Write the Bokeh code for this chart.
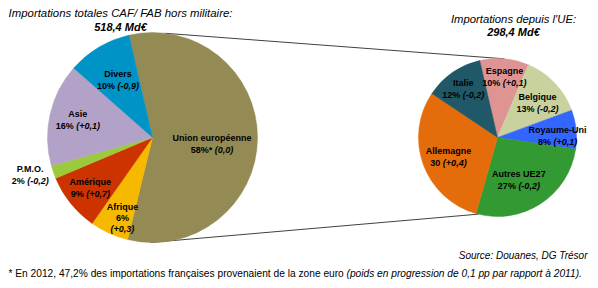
import math
from bokeh.plotting import figure
from bokeh.models import Range1d, ColumnDataSource
from bokeh.embed import file_html
from bokeh.resources import INLINE
from bokeh.core.properties import value

# ---------------- data ----------------
left_names = ["Union européenne", "Afrique", "Amérique", "P.M.O.", "Asie", "Divers"]
left_values = [58, 6, 9, 2, 16, 10]
left_pct = ["58%*", "6%", "9%", "2%", "16%", "10%"]
left_change = ["(0,0)", "(+0,3)", "(+0,7)", "(-0,2)", "(+0,1)", "(-0,9)"]

right_names = ["Espagne", "Belgique", "Royaume-Uni", "Autres UE27", "Allemagne", "Italie"]
right_values = [10, 13, 8, 27, 30, 12]
right_pct = ["10%", "13%", "8%", "27%", "30", "12%"]
right_change = ["(+0,1)", "(-0,2)", "(+0,1)", "(-0,2)", "(+0,4)", "(-0,2)"]

left_title = "Importations totales CAF/ FAB hors militaire:"
left_total = "518,4 Md€"
right_title = "Importations depuis l'UE:"
right_total = "298,4 Md€"
source_text = "Source: Douanes, DG Trésor"
foot_regular = "* En 2012, 47,2% des importations françaises provenaient de la zone euro"
foot_italic = "(poids en progression de 0,1 pp par rapport à 2011)."

# ---------------- styles ----------------
left_colors = ["#948A54", "#F7B900", "#CC3300", "#9BCB3B", "#B3A2C7", "#0093C6"]
right_colors = ["#DF9494", "#C9D19E", "#3366FF", "#339933", "#E46C0A", "#215868"]
left_label_r = [0.57, 0.82, 0.76, 1.22, 0.73, 0.64]
left_label_shift = [6, -4, 0, 2, 0, 0]
right_label_r = [0.77, 0.67, 0.76, 0.60, 0.67, 0.75]
right_label_shift = [1.5, 2.5, 4, 6, -2, -0.7]

W, H = 598, 288
FONT = "Liberation Sans"
LSIZE = 9

p = figure(width=W, height=H, x_range=Range1d(0, W), y_range=Range1d(0, H),
           output_backend="svg", toolbar_location=None,
           x_axis_type=None, y_axis_type=None, min_border=0)
p.grid.visible = False
p.outline_line_color = None
p.background_fill_color = "white"
p.border_fill_color = "white"


def Y(py):
    return H - py


CW = {"0": .556, "1": .556, "2": .556, "3": .556, "4": .556, "5": .556, "6": .556,
      "7": .556, "8": .556, "9": .556, "%": .889, "(": .333, ")": .333, ",": .278,
      "+": .584, "-": .333, " ": .278, "*": .389}


def tw(s, size):
    return sum(CW.get(c, .6) for c in s) * size


def pie(cx, cy, r, values, colors, start_deg):
    total = float(sum(values))
    sa, ea, mids = [], [], []
    a = start_deg
    for v in values:
        span = v / total * 360.0
        a1, a2 = a, a + span
        sa.append(math.radians(90 - a2))
        ea.append(math.radians(90 - a1))
        mids.append((a1 + a2) / 2)
        a = a2
    src = ColumnDataSource(dict(x=[cx] * len(values), y=[Y(cy)] * len(values),
                                s=sa, e=ea, c=colors))
    p.wedge(x="x", y="y", radius=r, radius_units="screen", start_angle="s", end_angle="e",
            direction="anticlock", fill_color="c", line_color="c", line_width=0.5, source=src)
    return mids


def add_text(x, py, t, size, style="normal", align="center", color="black"):
    p.text(x=[x], y=[Y(py)], text=[t], text_font=value(FONT), text_font_size=f"{size}px",
           text_font_style=style, text_align=align, text_baseline="middle", text_color=color)


def labels(cx, cy, r, mids, names, pcts, changes, rf, shifts):
    for m, n, pc, ch, f, sh in zip(mids, names, pcts, changes, rf, shifts):
        ang = math.radians(m + sh)
        lx = cx + f * r * math.sin(ang)
        ly = cy - f * r * math.cos(ang)
        if n == "Afrique":
            add_text(lx, ly - 11, n, LSIZE, "bold")
            add_text(lx, ly, pc, LSIZE, "bold")
            add_text(lx, ly + 11, ch, LSIZE, "bold italic")
            continue
        add_text(lx, ly - 6, n, LSIZE, "bold")
        w1 = tw(pc, LSIZE)
        gap = tw(" ", LSIZE)
        w2 = tw(ch, LSIZE)
        x0 = lx - (w1 + gap + w2) / 2
        add_text(x0, ly + 6, pc, LSIZE, "bold", "left")
        add_text(x0 + w1 + gap, ly + 6, ch, LSIZE, "bold italic", "left")


# pie geometry
LCX, LCY, LR = 152, 137, 105
RCX, RCY, RR = 497, 137, 79


def pt(cx, cy, r, deg):
    a = math.radians(deg)
    return cx + r * math.sin(a), cy - r * math.cos(a)


# connector lines
for dl, dr in [(7, 5), (181, 194)]:
    x1, y1 = pt(LCX, LCY, LR, dl)
    x2, y2 = pt(RCX, RCY, RR, dr)
    p.line([x1, x2], [Y(y1), Y(y2)], line_color="#404040", line_width=1)

lm = pie(LCX, LCY, LR, left_values, left_colors, -13)
rm = pie(RCX, RCY, RR, right_values, right_colors, -13)
labels(LCX, LCY, LR, lm, left_names, left_pct, left_change, left_label_r, left_label_shift)
labels(RCX, RCY, RR, rm, right_names, right_pct, right_change, right_label_r, right_label_shift)

# titles
add_text(120, 12, left_title, 11.4, "italic")
add_text(120, 26, left_total, 11, "bold italic")
add_text(513, 18, right_title, 11.3, "italic")
add_text(513, 31, right_total, 11, "bold italic")
add_text(587, 255, source_text, 10, "italic", "right")
add_text(8, 273, foot_regular, 10.2, "normal", "left")
add_text(346, 273, foot_italic, 10.2, "italic", "left")

open("out.html", "w").write(file_html(p, INLINE))
